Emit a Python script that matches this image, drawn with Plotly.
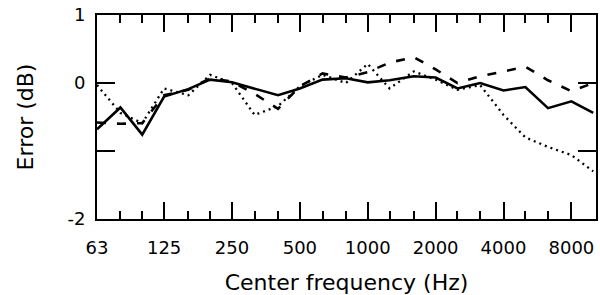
import math
import plotly.graph_objects as go

freq = [63, 80, 100, 125, 160, 200, 250, 315, 400, 500, 630, 800, 1000,
        1250, 1600, 2000, 2500, 3150, 4000, 5000, 6300, 8000, 10000]

solid = [-0.68, -0.36, -0.76, -0.20, -0.09, 0.05, 0.01, -0.08, -0.18, -0.08,
         0.05, 0.07, 0.01, 0.04, 0.10, 0.08, -0.08, 0.00, -0.11, -0.06,
         -0.37, -0.27, -0.44]

dashed = [-0.58, -0.60, -0.59, -0.18, -0.10, 0.07, 0.02, -0.16, -0.38, -0.05,
          0.14, 0.08, 0.16, 0.30, 0.38, 0.20, 0.00, 0.10, 0.17, 0.24,
          0.04, -0.12, 0.00]

dotted = [-0.03, -0.44, -0.59, -0.08, -0.18, 0.12, 0.00, -0.47, -0.34, -0.05,
          0.12, 0.00, 0.28, -0.08, 0.17, 0.05, -0.10, -0.03, -0.47, -0.80,
          -0.94, -1.06, -1.30]

x_major = [63, 125, 250, 500, 1000, 2000, 4000, 8000]
x_major_text = ["63", "125", "250", "500", "1000", "2000", "4000", "8000"]
x_minor = [80, 100, 160, 200, 315, 400, 630, 800, 1250, 1600, 2500, 3150,
           5000, 6300]
y_ticks = [1, 0, -1, -2]
y_ticktext = ["1", "0", "", "-2"]

FONT = "DejaVu Sans, Verdana, sans-serif"
XRANGE = [math.log10(63), math.log10(10285)]
YRANGE = [-2, 1]

fig = go.Figure()
fig.add_trace(go.Scatter(x=freq, y=solid, mode="lines",
                         line=dict(color="black", width=2.6), hoverinfo="skip"))
fig.add_trace(go.Scatter(x=freq, y=dashed, mode="lines",
                         line=dict(color="black", width=2.6, dash="9px,11px"),
                         hoverinfo="skip"))
fig.add_trace(go.Scatter(x=freq, y=dotted, mode="lines",
                         line=dict(color="black", width=2.3, dash="2px,4px"),
                         hoverinfo="skip"))
# invisible carrier trace so the overlaid minor-tick axis gets drawn
fig.add_trace(go.Scatter(x=freq, y=solid, mode="lines", xaxis="x2", yaxis="y",
                         line=dict(color="rgba(0,0,0,0)", width=0),
                         hoverinfo="skip"))

tick_common = dict(tickcolor="black", tickwidth=2, ticks="inside",
                   showgrid=False, zeroline=False, tickmode="array")

fig.update_layout(
    width=600, height=295,
    margin=dict(l=97, r=2, t=15, b=76),
    paper_bgcolor="white", plot_bgcolor="white",
    showlegend=False,
    font=dict(family=FONT, color="black", size=18),
    xaxis=dict(
        type="log", range=XRANGE,
        tickvals=x_major, ticktext=x_major_text, ticklen=17,
        showline=True, linecolor="black", linewidth=2, mirror="ticks",
        tickfont=dict(size=18), ticklabelstandoff=11,
        title=dict(text="Center frequency (Hz)", font=dict(size=22), standoff=19),
        **tick_common,
    ),
    xaxis2=dict(
        type="log", range=XRANGE, overlaying="x", anchor="y", side="bottom",
        tickvals=x_minor, ticklen=8, showticklabels=False, showline=False,
        mirror="ticks",
        **tick_common,
    ),
    yaxis=dict(
        range=YRANGE,
        tickvals=y_ticks, ticktext=y_ticktext, ticklen=18,
        showline=True, linecolor="black", linewidth=2, mirror="ticks",
        tickfont=dict(size=18), ticklabelstandoff=6,
        title=dict(text="Error (dB)", font=dict(size=22), standoff=28),
        **tick_common,
    ),
)

fig.write_html(
    "out.html",
    config={"displayModeBar": False, "staticPlot": True},
    post_script="document.body.style.margin='0';document.body.style.overflow='hidden';",
)
